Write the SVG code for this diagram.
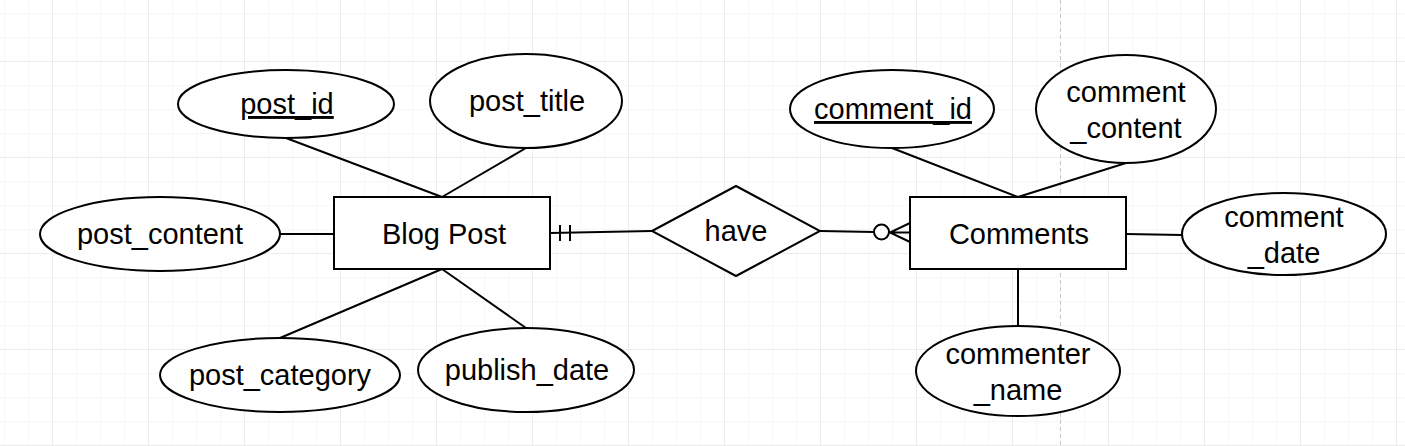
<svg xmlns="http://www.w3.org/2000/svg" width="1405" height="446" viewBox="0 0 1405 446">
<defs>
<pattern id="minor" x="4" y="13" width="24" height="24" patternUnits="userSpaceOnUse">
<path d="M0 0H24M0 0V24" fill="none" stroke="#f0f0f0" stroke-width="1"/>
</pattern>
<pattern id="major" x="52" y="61" width="96" height="96" patternUnits="userSpaceOnUse">
<path d="M0 0H96M0 0V96" fill="none" stroke="#e2e2e2" stroke-width="1"/>
</pattern>
</defs>
<style>
.shape{fill:#fff;stroke:#000;stroke-width:2}
.edge{fill:none;stroke:#000;stroke-width:2}
text{font-family:"Liberation Sans",Arial,sans-serif;font-size:29px;fill:#000;text-anchor:middle}
</style>
<rect width="1405" height="446" fill="#fff"/>
<rect width="1405" height="446" fill="url(#minor)"/>
<rect width="1405" height="446" fill="url(#major)"/>
<line x1="1060.5" y1="0" x2="1060.5" y2="446" stroke="#c8c8c8" stroke-width="1" stroke-dasharray="4 3"/>

<g id="connectors">
<line class="edge" x1="286" y1="138" x2="442" y2="197"/>
<line class="edge" x1="526" y1="148" x2="442" y2="197"/>
<line class="edge" x1="280" y1="234" x2="334" y2="234"/>
<line class="edge" x1="280" y1="338" x2="442" y2="269"/>
<line class="edge" x1="526" y1="328" x2="442" y2="269"/>
<line class="edge" x1="892" y1="148" x2="1018" y2="197"/>
<line class="edge" x1="1126" y1="163" x2="1018" y2="197"/>
<line class="edge" x1="1182" y1="235" x2="1126" y2="234"/>
<line class="edge" x1="1018" y1="326" x2="1018" y2="269"/>
<!-- one mandatory -->
<line class="edge" x1="550" y1="233" x2="652" y2="231"/>
<line class="edge" x1="560" y1="225" x2="560" y2="241"/>
<line class="edge" x1="570" y1="225" x2="570" y2="241"/>
<!-- zero or many -->
<line class="edge" x1="820" y1="231" x2="874" y2="232"/>
<circle class="shape" cx="881.5" cy="232" r="7.5"/>
<path class="edge" d="M910 223L890 232.5L910 242M890 232.5H910"/>
</g>

<g id="blog_post">
<rect class="shape" x="334" y="197" width="216" height="72"/>
<text x="444" y="244">Blog Post</text>
</g>
<g id="comments">
<rect class="shape" x="910" y="197" width="216" height="72"/>
<text x="1019" y="244">Comments</text>
</g>
<g id="have">
<polygon class="shape" points="652,231 736,186 820,231 736,276"/>
<text x="736" y="241">have</text>
</g>

<g id="post_id">
<ellipse class="shape" cx="286" cy="104" rx="108" ry="34"/>
<text x="287" y="114" text-decoration="underline">post_id</text>
</g>
<g id="post_title">
<ellipse class="shape" cx="526" cy="101" rx="96" ry="47"/>
<text x="527" y="111">post_title</text>
</g>
<g id="post_content">
<ellipse class="shape" cx="160" cy="234" rx="120" ry="37"/>
<text x="160" y="244">post_content</text>
</g>
<g id="post_category">
<ellipse class="shape" cx="280" cy="375" rx="120" ry="37"/>
<text x="280" y="385">post_category</text>
</g>
<g id="publish_date">
<ellipse class="shape" cx="526" cy="370" rx="108" ry="42"/>
<text x="527" y="380">publish_date</text>
</g>
<g id="comment_id">
<ellipse class="shape" cx="892" cy="109" rx="102" ry="39"/>
<text x="893" y="119" text-decoration="underline">comment_id</text>
</g>
<g id="comment_content">
<ellipse class="shape" cx="1126" cy="109" rx="90" ry="54"/>
<text x="1126" y="102">comment</text>
<text x="1126" y="138">_content</text>
</g>
<g id="comment_date">
<ellipse class="shape" cx="1284" cy="234" rx="102" ry="41"/>
<text x="1284" y="227">comment</text>
<text x="1284" y="263">_date</text>
</g>
<g id="commenter_name">
<ellipse class="shape" cx="1018" cy="371" rx="102" ry="45"/>
<text x="1018" y="364">commenter</text>
<text x="1018" y="400">_name</text>
</g>
</svg>
